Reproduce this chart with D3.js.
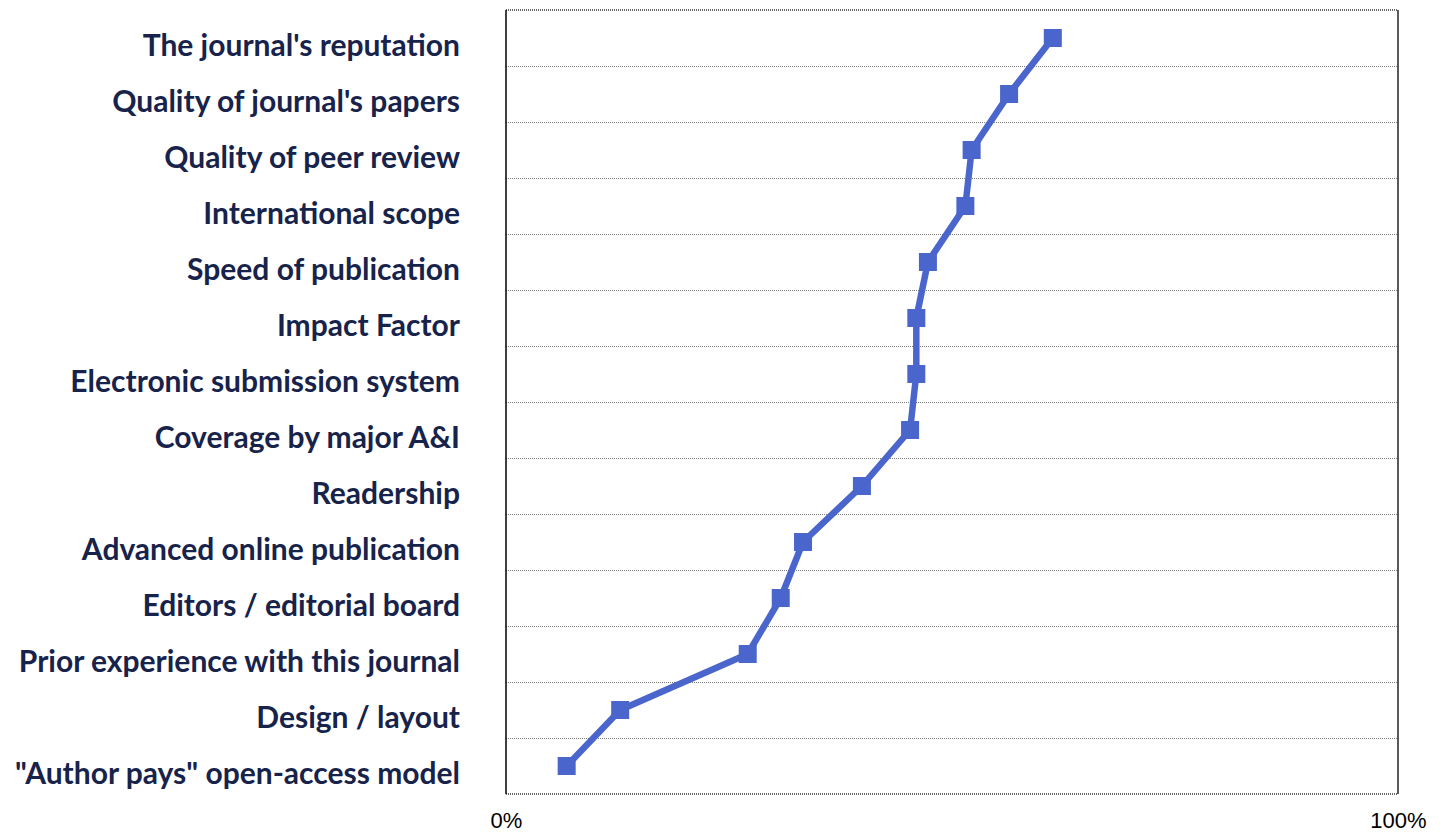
<!DOCTYPE html>
<html>
<head>
<meta charset="utf-8">
<script src="https://cdn.jsdelivr.net/npm/d3@7"></script>
<style>
  body { margin: 0; background: #fff; }
</style>
</head>
<body>
<div id="chart"></div>
<script>
// categories from top to bottom
const factors = [
  "The journal's reputation",
  "Quality of journal's papers",
  "Quality of peer review",
  "International scope",
  "Speed of publication",
  "Impact Factor",
  "Electronic submission system",
  "Coverage by major A&I",
  "Readership",
  "Advanced online publication",
  "Editors / editorial board",
  "Prior experience with this journal",
  "Design / layout",
  "\"Author pays\" open-access model"
];
// share of respondents (%)
const shares = [61.3, 56.4, 52.2, 51.5, 47.3, 46.0, 46.0, 45.3, 39.9, 33.3, 30.8, 27.1, 12.8, 6.8];
const tickValues = [0, 100];

const width = 1442, height = 833;
const margin = {top: 10, right: 44, bottom: 39, left: 506};

const svg = d3.select("#chart").append("svg")
    .attr("width", width)
    .attr("height", height);

const g = svg.append("g")
    .attr("transform", `translate(${margin.left},${margin.top})`);

const w = width - margin.left - margin.right;
const h = height - margin.top - margin.bottom;

// scales
let x = d3.scaleLinear().domain([0, 100]).range([0, w]);
let y = d3.scaleBand().domain(factors).range([0, h]);

// dotted gridlines between bands
const bounds = factors.slice(1).map(f => y(f));
g.selectAll(".grid")
    .data(bounds).enter().append("line")
    .attr("x1", 0).attr("x2", w)
    .attr("y1", d => d + 0.5).attr("y2", d => d + 0.5)
    .attr("stroke", "#7a7a7a")
    .attr("stroke-width", 1)
    .attr("stroke-dasharray", "1,1");

// frame: dotted top/bottom, solid left/right
g.append("line").attr("x1", 0).attr("x2", w).attr("y1", 0).attr("y2", 0)
    .attr("stroke", "#333").attr("stroke-width", 1.5).attr("stroke-dasharray", "1,1");
g.append("line").attr("x1", 0).attr("x2", w).attr("y1", h).attr("y2", h)
    .attr("stroke", "#333").attr("stroke-width", 1.5).attr("stroke-dasharray", "1,1");
g.append("line").attr("x1", 0).attr("x2", 0).attr("y1", 0).attr("y2", h)
    .attr("stroke", "#000").attr("stroke-width", 1.5);
g.append("line").attr("x1", w).attr("x2", w).attr("y1", 0).attr("y2", h)
    .attr("stroke", "#222").attr("stroke-width", 1.5);

// category labels
let yAxis = g.append("g")
    .call(d3.axisLeft(y).tickSize(0).tickPadding(46));
yAxis.select(".domain").remove();
yAxis.selectAll("text")
    .attr("dy", "0.59em")
    .style("font-family", "Lato, 'Open Sans', sans-serif")
    .style("font-weight", "bold")
    .style("font-size", "30px")
    .style("fill", "#17234a");

// x tick labels
let xAxis = g.append("g")
    .attr("transform", `translate(0,${h})`)
    .call(d3.axisBottom(x).tickValues(tickValues).tickSize(0).tickPadding(18)
        .tickFormat(d => d + "%"));
xAxis.select(".domain").remove();
xAxis.selectAll("text")
    .style("font-family", "'Liberation Sans', Arial, sans-serif")
    .style("font-size", "22px")
    .style("fill", "#000");

// line + square markers
const pts = factors.map((f, i) => ({factor: f, value: shares[i]}));
const line = d3.line()
    .x(d => x(d.value))
    .y(d => y(d.factor) + y.bandwidth() / 2);

g.append("path")
    .datum(pts)
    .attr("fill", "none")
    .attr("stroke", "#4a65cc")
    .attr("stroke-width", 6.5)
    .attr("stroke-linejoin", "round")
    .attr("d", line);

const ms = 18;
g.selectAll(".marker")
    .data(pts).enter().append("rect")
    .attr("x", d => x(d.value) - ms / 2)
    .attr("y", d => y(d.factor) + y.bandwidth() / 2 - ms / 2)
    .attr("width", ms)
    .attr("height", ms)
    .attr("fill", "#4a65cc");
</script>
</body>
</html>
